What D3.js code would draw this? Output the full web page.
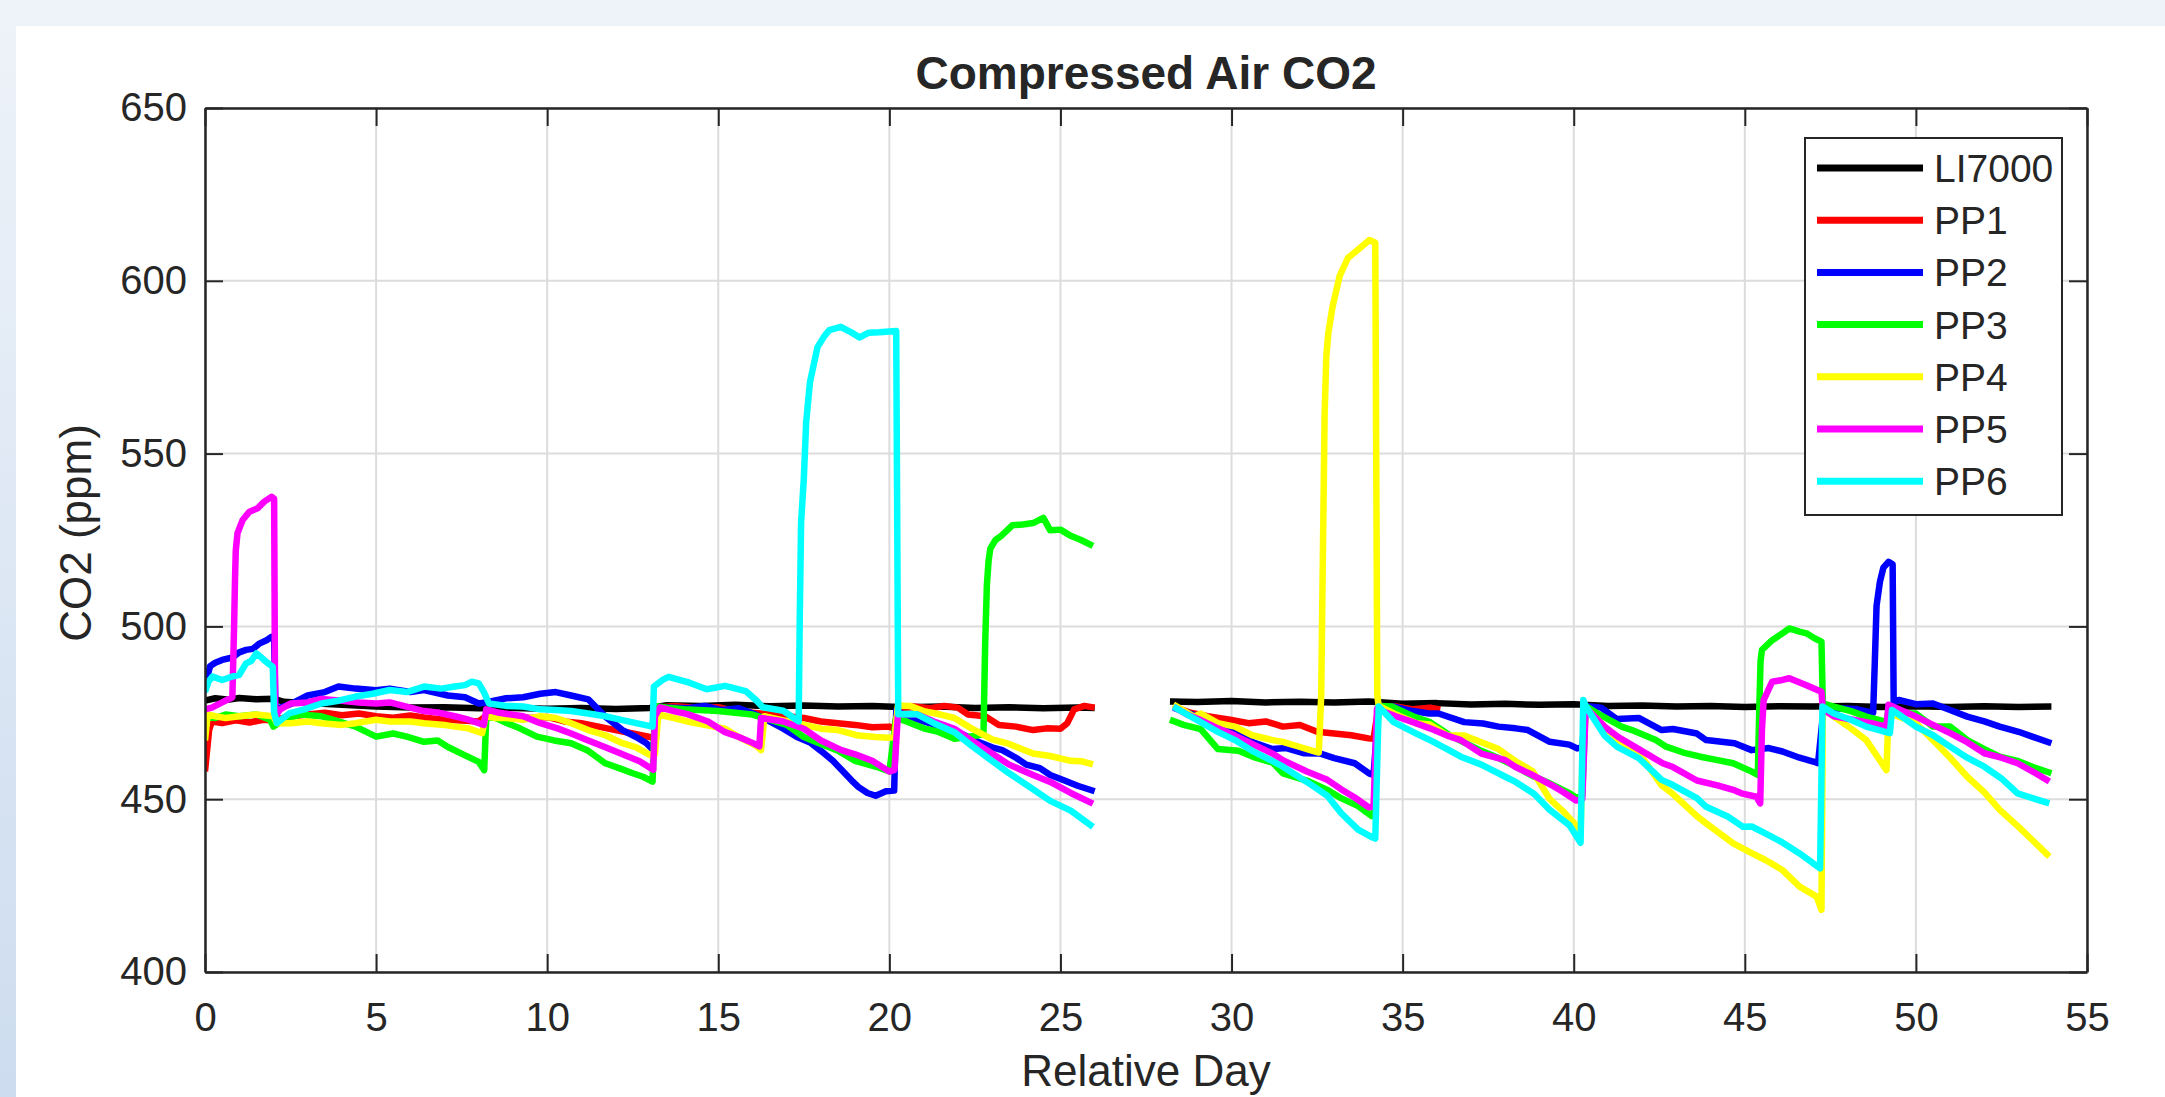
<!DOCTYPE html>
<html>
<head>
<meta charset="utf-8">
<script src="https://cdn.jsdelivr.net/npm/d3@7"></script>
<style>
  body { margin: 0; background: #fff; }
  svg { display: block; }
  text { font-family: "Liberation Sans", Arial, Helvetica, sans-serif; fill: #262626; }
</style>
</head>
<body>
<div id="chart"></div>
<script>
// [day, ppm], null = logging gap
const li7000 = [[0,478.5],[0.3,479.2],[0.7,478.8],[1,479.3],[1.5,478.9],[2,479.1],[2.3,478.2],[3,477.8],[4,477.3],[5,476.8],[6,476.5],[7,476.6],[8,476.3],[9,476.4],[10,476.2],[11,476.4],[12,476.1],[13,476.4],[13.5,477.2],[14.5,477],[15.5,477.3],[16.5,476.9],[17.5,477.1],[18.5,476.8],[19.5,477],[20.5,476.6],[21.5,476.8],[22.5,476.4],[23.5,476.6],[24.5,476.3],[25.5,476.5],[26,476.4],[27,null],[28.2,478.3],[29,478.1],[30,478.4],[31,478],[32,478.2],[33,478],[34,478.3],[35,477.6],[36,477.8],[37,477.4],[38,477.6],[39,477.3],[40,477.5],[41,477],[42,477.1],[43,476.8],[44,477],[45,476.7],[46,476.9],[47,476.8],[48,477],[49,476.7],[50,476.9],[51,476.7],[52,476.9],[53,476.7],[53.96,476.8]];

const pp1 = [[0,458],[0.05,463],[0.12,470],[0.2,472.5],[0.5,472],[0.9,472.8],[1.3,472.2],[1.7,473],[2,472.8],[2.5,474],[3,474.5],[3.5,475],[4,474.3],[4.5,474.8],[5,474],[5.5,473.6],[6,474.2],[6.5,473.5],[7,473],[7.5,472.8],[8,472.5],[8.2,474],[8.6,474.5],[9,474],[9.5,473.5],[10,473.8],[10.5,472.5],[11,472],[11.5,471],[12,470],[12.5,469],[13,468],[13.15,467.5],[13.25,476.5],[13.7,477],[14.3,476.5],[15,476.6],[15.5,475.5],[16,475],[16.5,474.6],[17,474],[17.5,473.5],[18,472.5],[18.5,472],[19,471.5],[19.5,470.8],[20,471],[20.15,470.4],[20.25,476.5],[20.7,476.8],[21.2,476.3],[21.6,477],[22,476.5],[22.3,474.5],[22.8,474],[23.2,471.5],[23.7,471],[24.2,470],[24.6,470.5],[25,470.4],[25.2,472],[25.4,476],[25.7,477],[26,476.5],[27,null],[28.3,476.8],[28.8,475],[29.3,474],[30,472.9],[30.5,472],[31,472.5],[31.5,471],[32,471.5],[32.5,469.5],[33,469],[33.5,468.5],[34,467.6],[34.15,467.5],[34.3,477],[34.8,476.8],[35.3,476],[35.8,476.5],[36.1,476]];

const pp2 = [[0,481.6],[0.08,486],[0.15,488.5],[0.3,489.5],[0.5,490.3],[0.8,491],[1,492.5],[1.2,493.2],[1.4,493.5],[1.6,495.1],[1.8,496],[1.95,497],[2.02,496.5],[2.06,476],[2.5,477.5],[3,480],[3.5,481],[3.9,482.6],[4.4,482],[5,481.5],[5.4,482],[6,481],[6.4,481.6],[7.1,480],[7.6,479.5],[8,477.7],[8.2,478],[8.8,479.2],[9.3,479.5],[9.8,480.5],[10.25,481],[10.7,480],[11.2,478.9],[11.7,473.9],[12.2,470],[12.6,468],[12.9,466.2],[13.1,464.2],[13.2,476],[13.5,476.5],[14.1,476.3],[14.6,477],[15.1,475.8],[15.6,476.3],[16.1,474.5],[16.5,472.5],[16.9,470.4],[17.3,468],[17.7,466.3],[18,464],[18.35,461.1],[18.6,458.5],[18.9,455.4],[19.1,453.5],[19.36,451.8],[19.6,451],[19.9,452.3],[20.14,452.5],[20.2,475.6],[20.5,474],[21,472.5],[21.5,471],[22,469.5],[22.5,467],[23,465],[23.3,464.2],[23.7,462],[24,460],[24.4,459],[24.7,457],[25.1,455.5],[25.5,453.9],[26,452.3],[27,null],[28.3,476.5],[29,474],[29.6,471],[30.2,469],[30.65,466.4],[31.2,464.5],[31.6,464.8],[32.1,463.3],[32.6,463.2],[33,461.9],[33.6,460.4],[34.03,457.4],[34.15,457],[34.3,477],[34.74,476.8],[35.3,475.5],[35.77,474.8],[36.05,474.8],[36.8,472.3],[37.35,471.9],[37.8,471],[38.3,470.5],[38.66,470],[39.3,466.6],[39.87,465.8],[40.1,464.7],[40.25,465],[40.35,477],[40.8,476.5],[41.26,473.2],[41.9,473.5],[42.57,470],[42.9,470.3],[43.6,469],[43.87,467.1],[44.7,466.2],[45.2,464.2],[45.7,464.8],[46.1,463.8],[46.6,462],[47,460.9],[47.14,460.4],[47.3,476],[47.8,476.3],[48.3,476],[48.75,475],[48.8,490],[48.85,506],[48.95,513],[49.05,517],[49.2,518.7],[49.32,518],[49.35,478],[49.5,478.7],[50,477.5],[50.5,477.7],[51,475.8],[51.5,473.9],[52,472.5],[52.45,471],[53,469.5],[53.4,468.1],[53.96,466.2]];

const pp3 = [[0,470],[0.08,474],[0.3,473.5],[0.6,474.5],[1,474],[1.5,474.5],[1.9,473],[2,471],[2.3,473],[2.8,474.5],[3.4,474],[3.9,472.5],[4.4,471],[5,468.1],[5.5,469],[5.9,468.1],[6.4,466.6],[6.8,467],[7.1,465.1],[7.6,462.7],[8,460.8],[8.16,458.4],[8.22,474],[8.5,473.5],[8.8,472.1],[9.2,470.5],[9.7,468.1],[10.2,467],[10.7,466.2],[11.2,464],[11.7,460.4],[12.1,459],[12.5,457.5],[12.8,456.5],[13.08,455.1],[13.15,477],[13.5,476.5],[14,476],[15,475.5],[16,474.5],[16.5,473],[17,471.5],[17.5,468],[18,466],[18.5,464],[19,461.1],[19.7,459.1],[20,458],[20.2,473.5],[20.5,472.5],[21,470.5],[21.4,469.6],[21.9,467.5],[22.3,468],[22.75,468.8],[22.8,495],[22.85,512],[22.9,519],[22.95,522.5],[23.1,525],[23.27,526.2],[23.6,529.3],[23.9,529.5],[24.2,529.9],[24.5,531.4],[24.7,527.8],[25,528],[25.3,526.2],[25.6,525],[25.95,523.3],[27,null],[28.2,473],[28.6,471.5],[29.1,470.3],[29.6,464.5],[30.2,464],[30.7,462],[31.2,460.6],[31.5,457.5],[32.2,455.4],[32.8,452.7],[33.2,450.3],[33.7,448],[34.1,445.1],[34.15,445.5],[34.3,477],[34.7,476.8],[35.3,474],[35.8,472.3],[36.3,469],[36.8,466.4],[37.3,464],[37.8,461.9],[38.3,459.5],[38.8,456.7],[39.3,454.6],[39.9,451.6],[40.1,450.3],[40.25,451],[40.35,477],[40.7,474.8],[41.4,471],[41.7,470],[42.4,467.1],[42.7,465.2],[43.2,463.5],[43.7,462.3],[44.2,461.3],[44.66,460.4],[45.2,458],[45.38,457],[45.42,475],[45.46,490],[45.5,493.2],[45.8,496],[46.1,498],[46.3,499.4],[46.6,498.5],[46.8,498],[47.05,496.5],[47.24,495.6],[47.28,477.7],[47.6,476.8],[48.1,475.5],[48.55,473.9],[49.14,472.4],[49.2,476],[49.3,474.8],[49.5,474.8],[50,474.8],[50.5,471],[51,471],[51.5,467.1],[52,464.5],[52.45,462.3],[53,461],[53.4,459.4],[53.96,457.5]];

const pp4 = [[0,467],[0.08,474.5],[0.3,474],[0.6,473.5],[1,474],[1.5,474.5],[2,474],[2.1,472],[2.5,472],[3,472.5],[3.4,472],[4,471.5],[4.4,472],[5,473],[5.4,472.5],[6,472.5],[6.4,472],[7,471.5],[7.3,471],[7.7,470.5],[8.1,469.1],[8.2,474],[8.5,473.5],[8.8,473.5],[9.3,473],[9.8,474],[10.25,473.5],[10.7,472],[11.2,470],[11.7,468.5],[12.2,466.2],[12.6,465],[13,462.8],[13.15,463],[13.25,474.5],[13.7,473.5],[14.1,472.5],[14.6,471.5],[15.2,470.4],[15.6,468],[16.1,465.5],[16.25,464.2],[16.35,474],[16.8,473],[17.3,472],[18,470.4],[18.5,470],[19.1,468.4],[19.6,468],[20,467.8],[20.15,468],[20.25,477.1],[20.6,477],[21,475.5],[21.5,474.5],[21.9,473.5],[22.4,470.5],[23,467.3],[23.5,466],[24.2,463.2],[24.7,462.5],[25.3,461.1],[25.6,461],[25.95,460.1],[27,null],[28.3,477.4],[28.9,473.9],[29.1,474.8],[29.6,472],[30.1,471],[30.6,468.5],[31.2,467.1],[31.5,466.6],[32,465.1],[32.3,464.2],[32.55,463.5],[32.62,480],[32.67,521.3],[32.72,561.4],[32.77,578.2],[32.83,585],[32.95,592.4],[33.16,601.4],[33.4,606.6],[33.72,609.2],[34.03,611.8],[34.2,611],[34.26,480],[34.3,477],[34.74,474.8],[35.4,472],[35.8,471.6],[36.3,468.5],[36.8,468.4],[37.3,466.5],[37.8,464.5],[38.3,461],[38.8,458.1],[39.3,450],[39.7,446.4],[40.07,442.5],[40.2,441],[40.3,477],[40.9,471],[41.26,467.1],[41.9,463.5],[42.57,454],[42.9,451.5],[43.6,445.1],[43.87,443],[44.66,437.2],[45.2,434.4],[45.6,432.4],[46.1,429.5],[46.6,424.7],[47.1,421.8],[47.24,418],[47.28,476],[47.6,473.9],[48.1,470.5],[48.55,467.1],[49.14,458.4],[49.2,475],[49.5,473.9],[50,472],[50.5,467.1],[51,462],[51.5,456.5],[52,452],[52.45,446.9],[53,442],[53.4,438.2],[53.9,433.4]];

const pp5 = [[0,476],[0.2,476.5],[0.5,478],[0.8,479.5],[0.85,500],[0.88,515],[0.9,522],[0.95,527],[1.1,530.8],[1.3,533.2],[1.54,534.2],[1.73,536.1],[1.95,537.5],[2.02,537],[2.05,474],[2.2,476],[2.5,477.7],[3,478],[3.4,479],[4,478.5],[4.5,478],[5,477.7],[5.4,478],[6,476.5],[6.4,475.5],[6.85,475],[7.3,474],[7.7,473],[8,472],[8.15,471.5],[8.22,476],[8.6,475],[9.3,474],[9.8,472],[10.3,470.5],[10.7,469],[11.2,467],[11.7,465],[12.2,463],[12.7,461],[13.1,458.5],[13.15,474],[13.3,476.6],[13.7,475.5],[14.1,474.6],[14.7,472.5],[15.2,469.4],[15.6,468],[16,466.3],[16.2,465.3],[16.25,473.5],[16.9,472.5],[17.5,470.4],[18,467],[18.6,464.2],[19,463],[19.5,461.1],[20,458],[20.15,458.5],[20.25,474.6],[20.8,474.6],[21.3,472.5],[21.9,470.4],[22.4,467],[23,463.2],[23.5,460],[24.2,457],[24.7,455],[25.3,451.8],[25.95,448.7],[27,null],[28.3,476.8],[28.7,474.5],[29.1,472.9],[29.6,470.5],[30.1,468.4],[30.6,466],[31.2,463.2],[31.5,461.3],[32.2,458],[32.8,455.6],[33.2,452.9],[33.6,450.5],[34,447.7],[34.15,447.8],[34.25,476.1],[34.8,474],[35.3,472.3],[35.8,470.5],[36.3,468.4],[36.7,467.1],[37.3,463.2],[38,461.3],[38.3,459.3],[38.8,457],[39.35,454.1],[39.7,452],[40.07,449.6],[40.25,450],[40.35,476.5],[40.9,471],[41.3,468],[41.9,464.5],[42.6,460.4],[42.9,459.3],[43.6,455.4],[44.2,454],[44.66,452.7],[44.9,451.7],[45.34,450.7],[45.45,448.8],[45.5,470],[45.55,478.7],[45.8,484],[46.1,484.5],[46.3,485],[46.8,483],[47.24,481.1],[47.28,476],[47.6,474],[48.2,472.9],[48.7,472],[49.14,471],[49.2,477.3],[49.5,476],[50,473.9],[50.5,471.5],[51,469.1],[51.5,466.5],[52,463.3],[52.5,462],[52.97,460.4],[53.5,457.5],[53.9,455.1]];

const pp6 = [[0,481],[0.1,484],[0.22,485.5],[0.5,484.5],[0.8,485.5],[1,486],[1.2,489.3],[1.35,490],[1.5,492.2],[1.65,491],[1.78,489.8],[1.98,488.3],[2.02,475],[2.1,472],[2.46,474.8],[2.9,476],[3.4,477.7],[3.9,478.5],[4.4,479.7],[4.9,480.5],[5.4,481.6],[5.9,481],[6.4,482.6],[6.9,482],[7.3,482.6],[7.6,483],[7.8,484],[8,483.5],[8.15,481],[8.3,477.7],[8.8,477],[9.3,476.8],[9.8,476],[10.25,475.8],[10.7,475.5],[11.2,474.8],[11.7,474],[12.2,472.9],[12.6,472],[13.08,471],[13.12,482.6],[13.37,484.5],[13.55,485.4],[14.1,483.9],[14.66,481.8],[15.2,482.8],[15.8,481.3],[16.1,478.7],[16.3,476.6],[16.9,475.6],[17.35,472.5],[17.38,501.4],[17.42,530],[17.5,542.8],[17.57,559.3],[17.68,570.7],[17.9,580.8],[18.1,584],[18.24,585.7],[18.58,586.7],[18.9,585],[19.13,583.6],[19.4,585],[19.7,585.1],[20.2,585.5],[20.26,474.6],[20.8,474.6],[21.3,472],[21.9,469.4],[22.4,465.5],[23,461.1],[23.5,457.5],[24.2,452.9],[24.7,449.5],[25.3,446.7],[25.6,444.5],[25.95,442],[27,null],[28.3,476.8],[28.7,474.5],[29.1,472.3],[29.6,469.5],[30.1,467.1],[30.6,464],[31.2,461],[31.5,459.4],[32.2,455],[32.8,451],[33.2,446],[33.7,441.2],[34.1,439],[34.2,438.6],[34.3,476.8],[34.74,472.3],[35.4,469],[35.8,467.1],[36.3,464.5],[36.7,462.3],[37.3,460],[38,456.5],[38.3,455],[38.84,451.6],[39.3,446.9],[39.87,442.5],[40.2,437.4],[40.28,478.7],[40.35,477],[40.9,468.4],[41.26,465.2],[41.9,461.9],[42.57,455.6],[42.9,454.1],[43.6,450.3],[43.87,447.8],[44.5,445],[44.95,442],[45.2,442.1],[45.6,440.1],[46.1,437.5],[46.6,434.3],[47.13,430.5],[47.2,430],[47.27,476.8],[47.6,474.8],[48.1,473],[48.55,471],[49.24,469.1],[49.3,475.8],[49.5,474.5],[50,471],[50.5,468.5],[51,465.2],[51.5,462],[52,459.4],[52.5,456],[52.97,451.7],[53.5,450],[53.9,448.8]];

const seriesNames = ["LI7000", "PP1", "PP2", "PP3", "PP4", "PP5", "PP6"];
const seriesColors = ["#000000", "#ff0000", "#0000ff", "#00ff00", "#ffff00", "#ff00ff", "#00ffff"];
const xTicks = [0, 5, 10, 15, 20, 25, 30, 35, 40, 45, 50, 55];
const yTicks = [400, 450, 500, 550, 600, 650];

const allSeries = [li7000, pp1, pp2, pp3, pp4, pp5, pp6];

var W = 2165, H = 1097;
var margin = {top: 108, right: 78, bottom: 125, left: 205},
    width = W - margin.left - margin.right,
    height = H - margin.top - margin.bottom;

var root = d3.select("#chart")
  .append("svg")
    .attr("width", W)
    .attr("height", H);

// window-ish frame around the figure
var defs = root.append("defs");
var grad = defs.append("linearGradient")
    .attr("id", "sideGrad")
    .attr("x1", 0).attr("y1", 0).attr("x2", 0).attr("y2", 1);
grad.append("stop").attr("offset", "0%").attr("stop-color", "#eef3f9");
grad.append("stop").attr("offset", "100%").attr("stop-color", "#cddcef");

root.append("rect").attr("width", W).attr("height", H).attr("fill", "#ffffff");
root.append("rect").attr("width", W).attr("height", 26).attr("fill", "#eef3f9");
root.append("rect").attr("width", 16).attr("height", H).attr("fill", "url(#sideGrad)");

defs.append("clipPath").attr("id", "plotClip")
  .append("rect").attr("width", width).attr("height", height);

var svg = root.append("g")
    .attr("transform", "translate(" + margin.left + "," + margin.top + ")");

var x = d3.scaleLinear()
  .domain([0, 55])
  .range([0, width]);

var y = d3.scaleLinear()
  .domain([400, 650])
  .range([height, 0]);

// grid
var grid = svg.append("g").attr("class", "grid");
grid.selectAll("line.gx")
  .data(xTicks)
  .enter()
  .append("line")
    .attr("x1", d => x(d)).attr("x2", d => x(d))
    .attr("y1", 0).attr("y2", height)
    .attr("stroke", "#dcdcdc")
    .attr("stroke-width", 2);
grid.selectAll("line.gy")
  .data(yTicks)
  .enter()
  .append("line")
    .attr("x1", 0).attr("x2", width)
    .attr("y1", d => y(d)).attr("y2", d => y(d))
    .attr("stroke", "#dcdcdc")
    .attr("stroke-width", 2);

// data lines
var line = d3.line()
  .defined(d => d[1] !== null)
  .x(d => x(d[0]))
  .y(d => y(d[1]));

svg.append("g")
    .attr("clip-path", "url(#plotClip)")
  .selectAll("path")
  .data(allSeries)
  .enter()
  .append("path")
    .attr("d", line)
    .attr("fill", "none")
    .attr("stroke", (d, i) => seriesColors[i])
    .attr("stroke-width", 6.5)
    .attr("stroke-linejoin", "round")
    .attr("stroke-linecap", "butt");

// axes, ticks inside like matlab
function styleAxis(g, fontSize) {
  g.select(".domain").attr("stroke", "#262626").attr("stroke-width", 2.5);
  g.selectAll(".tick line").attr("stroke", "#262626").attr("stroke-width", 2);
  g.selectAll(".tick text")
    .style("font-size", fontSize + "px")
    .style("font-family", '"Liberation Sans", Arial, Helvetica, sans-serif')
    .attr("fill", "#262626");
}

svg.append("g")
  .attr("transform", "translate(0," + height + ")")
  .call(d3.axisBottom(x).tickValues(xTicks).tickSizeInner(-18).tickSizeOuter(0).tickPadding(31))
  .call(g => styleAxis(g, 40));

svg.append("g")
  .call(d3.axisTop(x).tickValues(xTicks).tickSizeInner(-18).tickSizeOuter(0).tickFormat(""))
  .call(g => styleAxis(g, 40));

svg.append("g")
  .call(d3.axisLeft(y).tickValues(yTicks).tickSizeInner(-18).tickSizeOuter(0).tickPadding(18))
  .call(g => styleAxis(g, 40));

svg.append("g")
  .attr("transform", "translate(" + width + ",0)")
  .call(d3.axisRight(y).tickValues(yTicks).tickSizeInner(-18).tickSizeOuter(0).tickFormat(""))
  .call(g => styleAxis(g, 40));

// title and labels
svg.append("text")
  .attr("x", width / 2)
  .attr("y", 89 - margin.top)
  .attr("text-anchor", "middle")
  .style("font-size", "46px")
  .style("font-weight", "bold")
  .attr("fill", "#000")
  .text("Compressed Air CO2");

svg.append("text")
  .attr("x", width / 2)
  .attr("y", 1086 - margin.top)
  .attr("text-anchor", "middle")
  .style("font-size", "44px")
  .text("Relative Day");

svg.append("text")
  .attr("transform", "translate(" + (91 - margin.left) + "," + (533 - margin.top) + ") rotate(-90)")
  .attr("text-anchor", "middle")
  .style("font-size", "44px")
  .text("CO2 (ppm)");

// legend
var legend = root.append("g").attr("transform", "translate(1805,138)");
legend.append("rect")
  .attr("width", 257).attr("height", 377)
  .attr("fill", "#ffffff")
  .attr("stroke", "#262626")
  .attr("stroke-width", 2);

var rows = legend.selectAll("g.row")
  .data(seriesNames)
  .enter()
  .append("g")
    .attr("transform", (d, i) => "translate(0," + (30 + i * 52.2) + ")");

rows.append("line")
  .attr("x1", 12).attr("x2", 118)
  .attr("y1", 0).attr("y2", 0)
  .attr("stroke", (d, i) => seriesColors[i])
  .attr("stroke-width", 7);

rows.append("text")
  .attr("x", 129)
  .attr("y", 0)
  .attr("dy", "0.36em")
  .style("font-size", "39px")
  .attr("fill", "#000")
  .text(d => d);
</script>
</body>
</html>
